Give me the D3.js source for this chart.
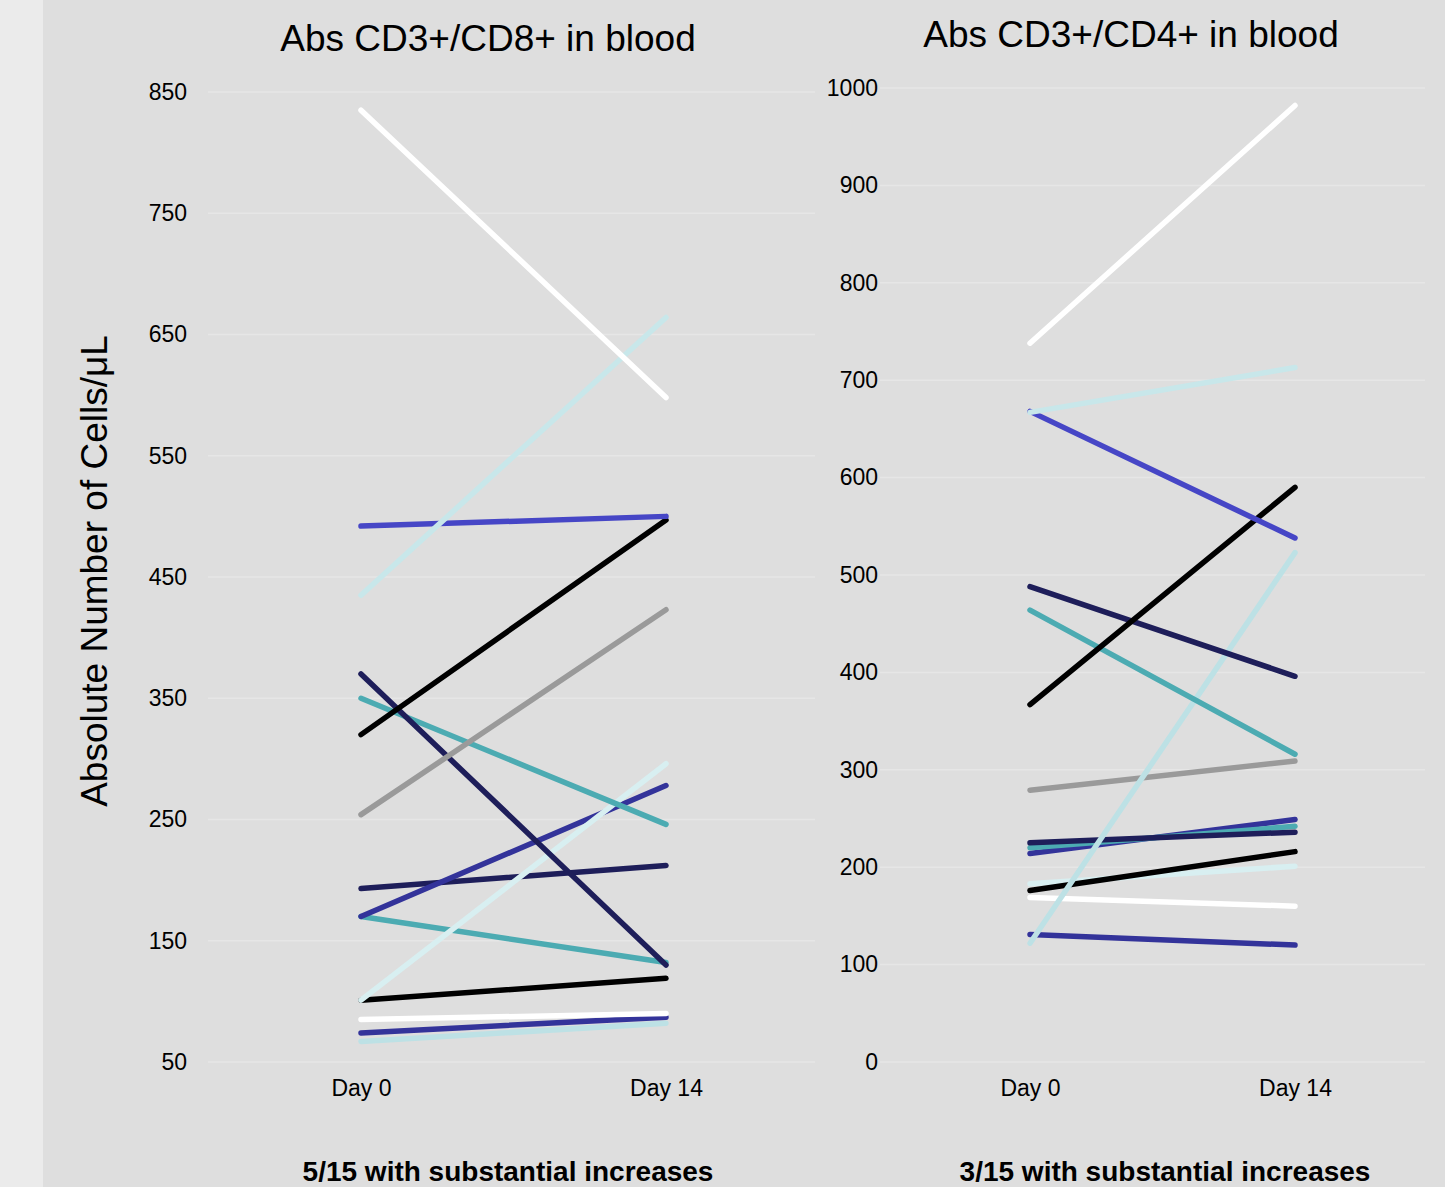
<!DOCTYPE html>
<html>
<head>
<meta charset="utf-8">
<script src="https://cdn.jsdelivr.net/npm/d3@7"></script>
<style>
  body { margin: 0; background: #dedede; }
  svg { display: block; font-family: "Liberation Sans", Arial, sans-serif; }
</style>
</head>
<body>
<svg id="chart"></svg>
<script>
// timepoints
var days = ["Day 0", "Day 14"];

// colours of the 15 subjects (same order in both panels' arrays)
var cd8Colors = ["#ffffff", "#c8e7ea", "#4646c6", "#000000", "#9a9a9a", "#1e1e5a", "#4cabb2",
                 "#d8eff1", "#33339a", "#1e1e5a", "#4cabb2", "#000000", "#ffffff", "#33339a", "#bde1e5"];
var cd8Day0  = [835, 435, 492, 320, 254, 370, 350, 101, 170, 193, 170, 101, 85, 74, 67];
var cd8Day14 = [598, 664, 500, 497, 423, 130, 246, 296, 278, 212, 132, 119, 90, 87, 82];

var cd4Colors = ["#ffffff", "#c8e7ea", "#4646c6", "#000000", "#1e1e5a", "#4cabb2", "#bde1e5",
                 "#9a9a9a", "#1e1e5a", "#4cabb2", "#33339a", "#000000", "#d8eff1", "#ffffff", "#33339a"];
var cd4Day0  = [738, 667, 668, 367, 488, 464, 122, 279, 225, 220, 214, 176, 183, 169, 131];
var cd4Day14 = [982, 713, 538, 590, 396, 316, 523, 309, 236, 242, 249, 216, 201, 160, 120];

var cd8Ticks = [50, 150, 250, 350, 450, 550, 650, 750, 850];
var cd4Ticks = [0, 100, 200, 300, 400, 500, 600, 700, 800, 900, 1000];

var width = 1445, height = 1187;
var svg = d3.select("#chart").attr("width", width).attr("height", height);

svg.append("rect").attr("width", width).attr("height", height).attr("fill", "#dedede");
svg.append("rect").attr("width", 43).attr("height", height).attr("fill", "#ebebeb");

function panel(opt) {
  var x = d3.scalePoint().domain(days).range(opt.xRange);
  var y = d3.scaleLinear().domain(opt.yDomain).range([1062, opt.yTop]);
  var g = svg.append("g");

  // gridlines
  g.selectAll(".grid")
    .data(opt.ticks)
    .enter()
    .append("line")
    .attr("x1", opt.gridRange[0])
    .attr("x2", opt.gridRange[1])
    .attr("y1", function(d) { return y(d); })
    .attr("y2", function(d) { return y(d); })
    .attr("stroke", "#e6e6e6")
    .attr("stroke-width", 1.5);

  // y axis labels
  var yAxis = d3.axisLeft(y).tickValues(opt.ticks).tickFormat(d3.format("d")).tickSize(0).tickPadding(0);
  var ya = g.append("g").attr("transform", "translate(" + opt.labelX + ",0)").call(yAxis);
  ya.select(".domain").remove();
  ya.selectAll("text").attr("font-size", 23).attr("fill", "#000").style("font-family", "Liberation Sans, Arial, sans-serif");

  // x axis labels
  var xAxis = d3.axisBottom(x).tickSize(0).tickPadding(0);
  var xa = g.append("g").attr("transform", "translate(0,1080)").call(xAxis);
  xa.select(".domain").remove();
  xa.selectAll("text").attr("font-size", 23).attr("fill", "#000").style("font-family", "Liberation Sans, Arial, sans-serif");

  // subject lines
  var rows = opt.day0.map(function(v, i) { return { a: v, b: opt.day14[i], c: opt.colors[i] }; });
  g.selectAll(".subj")
    .data(rows.slice().reverse())
    .enter()
    .append("line")
    .attr("x1", x(days[0]))
    .attr("x2", x(days[1]))
    .attr("y1", function(d) { return y(d.a); })
    .attr("y2", function(d) { return y(d.b); })
    .attr("stroke", function(d) { return d.c; })
    .attr("stroke-width", 5.5)
    .attr("stroke-linecap", "round");

  // title
  svg.append("text")
    .attr("x", opt.titleX).attr("y", opt.titleY)
    .attr("text-anchor", "middle")
    .attr("font-size", 37)
    .text(opt.title);

  // caption
  svg.append("text")
    .attr("x", opt.capX).attr("y", 1181)
    .attr("text-anchor", "middle")
    .attr("font-size", 28)
    .attr("font-weight", "bold")
    .text(opt.caption);
}

panel({
  xRange: [361, 666], yDomain: [50, 850], yTop: 92, ticks: cd8Ticks,
  gridRange: [208, 815], labelX: 187,
  day0: cd8Day0, day14: cd8Day14, colors: cd8Colors,
  title: "Abs CD3+/CD8+ in blood", titleX: 488, titleY: 51,
  caption: "5/15 with substantial increases", capX: 508
});

panel({
  xRange: [1030, 1295], yDomain: [0, 1000], yTop: 88, ticks: cd4Ticks,
  gridRange: [880, 1425], labelX: 878,
  day0: cd4Day0, day14: cd4Day14, colors: cd4Colors,
  title: "Abs CD3+/CD4+ in blood", titleX: 1131, titleY: 47,
  caption: "3/15 with substantial increases", capX: 1165
});

// shared y axis title
svg.append("text")
  .attr("transform", "translate(107,571) rotate(-90)")
  .attr("text-anchor", "middle")
  .attr("font-size", 37)
  .text("Absolute Number of Cells/\u03bcL");
</script>
</body>
</html>
